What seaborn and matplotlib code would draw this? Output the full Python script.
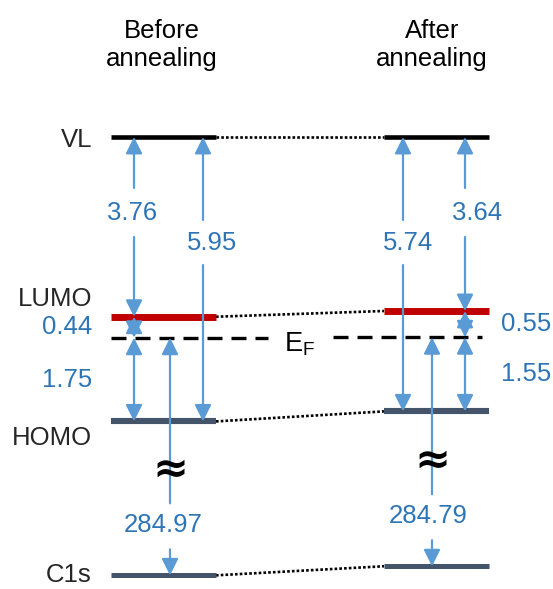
import matplotlib
matplotlib.use("Agg")
import matplotlib.pyplot as plt
import seaborn as sns
import pandas as pd

# ---------------- data ----------------
columns = ["Before\nannealing", "After\nannealing"]
level_names = ["VL", "LUMO", "HOMO", "C1s"]
electron_affinity = [3.76, 3.64]   # VL -> LUMO (eV)
ionization_energy = [5.95, 5.74]   # VL -> HOMO (eV)
lumo_to_ef = [0.44, 0.55]          # LUMO -> E_F (eV)
ef_to_homo = [1.75, 1.55]          # E_F -> HOMO (eV)
c1s_binding = [284.97, 284.79]     # E_F -> C1s (eV)
axis_break = 280.0                 # energy removed by the axis break

# ---------------- style ----------------
sns.set_theme(style="white")
plt.rcParams["font.family"] = ["Liberation Sans", "DejaVu Sans"]
plt.rcParams["mathtext.fontset"] = "custom"
plt.rcParams["mathtext.rm"] = "Liberation Sans"
plt.rcParams["lines.solid_capstyle"] = "butt"
plt.rcParams["lines.dash_capstyle"] = "butt"

ARROW = "#5B9BD5"
LABEL = "#2E75B6"
level_colors = {"VL": "#000000", "LUMO": "#C00000", "HOMO": "#44546A", "C1s": "#44546A"}
level_widths = {"VL": 3.3, "LUMO": 5.0, "HOMO": 4.4, "C1s": 3.6}
FS = 18.5

# derived energies (relative to vacuum level)
vl = [0.0, 0.0]
lumo = [-ea for ea in electron_affinity]
ef = [-(ea + d) for ea, d in zip(electron_affinity, lumo_to_ef)]
homo = [-ie for ie in ionization_energy]
c1s = [e - (be - axis_break) for e, be in zip(ef, c1s_binding)]
energies = {"VL": vl, "LUMO": lumo, "HOMO": homo, "C1s": c1s}

# layout
HW = 0.1923          # half width of a level bar (x units: column spacing = 1)
S = 47.8             # px per eV
fig = plt.figure(figsize=(5.53, 5.89), dpi=100)
ax = fig.add_axes([0, 0, 1, 1])
ax.set_xlim(-163.5 / 273, (553 - 163.5) / 273)
ax.set_ylim((137 - 589) / S, 137 / S)
ax.axis("off")

def px(p):
    return p / S

# ---------------- level bars ----------------
rows = []
for ci in range(len(columns)):
    for name in level_names:
        for dx in (-HW, HW):
            rows.append({"col": ci, "level": name, "x": ci + dx, "E": energies[name][ci]})
levels_df = pd.DataFrame(rows)
sns.lineplot(data=levels_df, x="x", y="E", hue="level", size="level",
             palette=level_colors, sizes=level_widths, units="col",
             estimator=None, sort=False, legend=False, ax=ax, zorder=3)

# dotted connectors between the two columns
conn_rows = []
for name in level_names:
    conn_rows.append({"level": name, "x": HW, "E": energies[name][0]})
    conn_rows.append({"level": name, "x": 1 - HW, "E": energies[name][1]})
conn_df = pd.DataFrame(conn_rows)
sns.lineplot(data=conn_df, x="x", y="E", units="level", estimator=None, sort=False,
             color="black", linestyle=(0, (1.0, 0.8)), linewidth=1.9, legend=False, ax=ax)

# Fermi level dashed segments
ef_extent = [(-HW, 0.383), (-0.379, 0.167)]
for ci, (l, r) in enumerate(ef_extent):
    ax.plot([ci + l, ci + r], [ef[ci], ef[ci]], color="black", lw=2.4,
            dashes=(4.5, 2.7), zorder=2)
ax.text(0.5, ef[0] - px(6), "E$_\\mathrm{F}$", fontsize=FS + 1, ha="center",
        va="center", color="black")

# ---------------- arrows ----------------
def arrow(x, y_from, y_to, style="-|>"):
    ax.annotate("", xy=(x, y_to), xytext=(x, y_from),
                arrowprops=dict(arrowstyle=f"{style},head_length=10,head_width=5",
                                mutation_scale=1, color=ARROW, lw=1.6,
                                shrinkA=0, shrinkB=0), zorder=4)

def gap_arrow(x, top, bottom, label_e, gap_up, gap_dn, lbl, lx):
    arrow(x, label_e + gap_up, top)
    arrow(x, label_e - gap_dn, bottom)
    ax.text(lx, label_e, lbl, fontsize=FS, color=LABEL, ha="center", va="center")

# column offsets
a_x = [(-0.108, 0.1447), (0.1044, -0.1227)]   # (short arrow, long arrow)
ea_lbl_dx = [-0.115, 0.148]
ie_lbl_dx = [0.177, -0.104]
c1s_x = [0.0238, -0.0165]
c1s_lbl_dx = [0.0, -0.03]

for ci in range(2):
    xs, xl = ci + a_x[ci][0], ci + a_x[ci][1]
    # VL -> LUMO
    gap_arrow(xs, vl[ci], lumo[ci], px(137 - 213), px(25), px(24),
              f"{electron_affinity[ci]:.2f}", ci + ea_lbl_dx[ci])
    # VL -> HOMO
    gap_arrow(xl, vl[ci], homo[ci], px(137 - 243), px(23), px(22),
              f"{ionization_energy[ci]:.2f}", ci + ie_lbl_dx[ci])
    # LUMO <-> EF and EF <-> HOMO
    arrow(xs, ef[ci], lumo[ci], "<|-|>")
    arrow(xs, homo[ci], ef[ci], "<|-|>")
    if ci == 0:
        lx, ha = -0.262, "right"
    else:
        lx, ha = 1 + 0.236, "left"
    ax.text(lx, (lumo[ci] + ef[ci]) / 2, f"{lumo_to_ef[ci]:.2f}", fontsize=FS,
            color=LABEL, ha=ha, va="center")
    ax.text(lx, (ef[ci] + homo[ci]) / 2, f"{ef_to_homo[ci]:.2f}", fontsize=FS,
            color=LABEL, ha=ha, va="center")
    # C1s -> EF : upper part with head at E_F, lower part with head at C1s
    xc = ci + c1s_x[ci]
    lbl_e = c1s[ci] + px(50)
    arrow(xc, lbl_e + px(22), ef[ci])
    arrow(xc, lbl_e - px(24), c1s[ci])
    ax.text(ci + c1s_lbl_dx[ci], lbl_e, f"{c1s_binding[ci]:.2f}", fontsize=FS,
            color=LABEL, ha="center", va="center")
    ax.text(xc, c1s[ci] + px(106), "\u2248", fontsize=31, fontweight="bold",
            color="black", ha="center", va="center", family="DejaVu Sans", zorder=5)

# ---------------- text labels ----------------
for ci, title in enumerate(columns):
    ax.text(ci + [-0.006, -0.017][ci], px(137 - 45), title, fontsize=FS,
            ha="center", va="center", linespacing=1.25, color="black")

lvl_x = -0.262
ax.text(lvl_x, vl[0] - px(3), "VL", fontsize=FS, ha="right", va="center")
ax.text(lvl_x, lumo[0] + px(18), "LUMO", fontsize=FS, ha="right", va="center")
ax.text(lvl_x, homo[0] - px(17), "HOMO", fontsize=FS, ha="right", va="center")
ax.text(lvl_x, c1s[0], "C1s", fontsize=FS, ha="right", va="center")

fig.savefig("out.png", dpi=100)
